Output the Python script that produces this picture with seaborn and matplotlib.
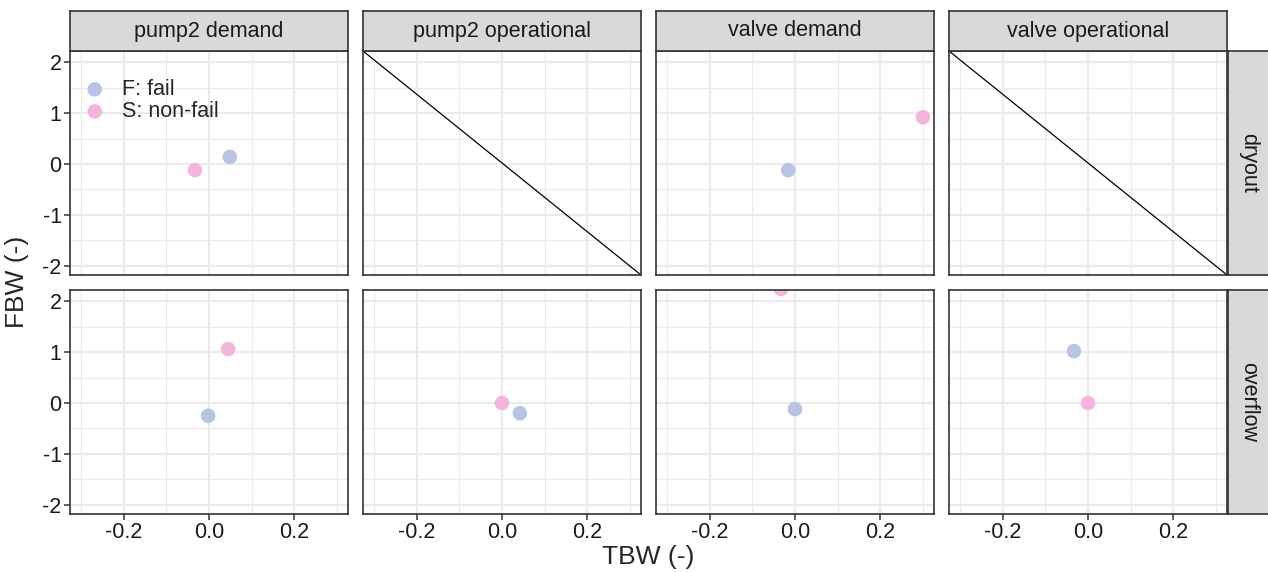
import numpy as np
import pandas as pd
import matplotlib
matplotlib.use("Agg")
import matplotlib.pyplot as plt
import seaborn as sns

# facets
col_names = ["pump2 demand", "pump2 operational", "valve demand", "valve operational"]
row_names = ["dryout", "overflow"]

# points
pt_row = ["dryout", "dryout", "dryout", "dryout",
          "overflow", "overflow", "overflow", "overflow",
          "overflow", "overflow", "overflow", "overflow"]
pt_col = ["pump2 demand", "pump2 demand", "valve demand", "valve demand",
          "pump2 demand", "pump2 demand", "pump2 operational", "pump2 operational",
          "valve demand", "valve demand", "valve operational", "valve operational"]
pt_group = ["F: fail", "S: non-fail", "F: fail", "S: non-fail",
            "F: fail", "S: non-fail", "F: fail", "S: non-fail",
            "F: fail", "S: non-fail", "F: fail", "S: non-fail"]
tbw = [0.049, -0.033, -0.016, 0.301,
       -0.002, 0.045, 0.042, 0.0,
       0.0, -0.033, -0.033, 0.0]
fbw = [0.14, -0.12, -0.12, 0.92,
       -0.25, 1.06, -0.20, 0.0,
       -0.12, 2.24, 1.02, 0.0]

# facets with no data get a diagonal
empty_panels = [("dryout", "pump2 operational"), ("dryout", "valve operational")]
xlim = (-0.327, 0.327)
ylim = (-2.18, 2.22)
diag_x = [-0.327, 0.327]
diag_y = [2.22, -2.18]

palette = {"F: fail": "#b9c3e3", "S: non-fail": "#f2b5dc"}

df = pd.DataFrame({"row": pt_row, "col": pt_col, "group": pt_group,
                   "TBW": tbw, "FBW": fbw})

sns.set_theme(style="white")
plt.rcParams["font.family"] = ["Liberation Sans", "DejaVu Sans"]

W, H = 1268, 572
fig = plt.figure(figsize=(W / 100, H / 100), dpi=100)

def fx(px):
    return px / W

def fy(py):
    return 1 - py / H

col_left = [70, 363, 656, 949]
pw = 278
row_top = [51, 290]
ph = 224
border = "#333333"
txt_size = 15.5

for r, rname in enumerate(row_names):
    for c, cname in enumerate(col_names):
        ax = fig.add_axes([fx(col_left[c]), fy(row_top[r] + ph), fx(pw), ph / H])
        ax.set_xlim(*xlim)
        ax.set_ylim(*ylim)
        ax.set_xticks([-0.2, 0.0, 0.2])
        ax.set_xticks([-0.3, -0.1, 0.1, 0.3], minor=True)
        ax.set_yticks([-2, -1, 0, 1, 2])
        ax.set_yticks([-1.5, -0.5, 0.5, 1.5], minor=True)
        ax.grid(which="major", color="#ebebeb", linewidth=1.6)
        ax.grid(which="minor", color="#ebebeb", linewidth=0.8)
        ax.set_axisbelow(True)
        for s in ax.spines.values():
            s.set_color(border)
            s.set_linewidth(1.2)
        ax.tick_params(which="major", length=4, width=1.1, color=border,
                       labelsize=txt_size, labelcolor="#1a1a1a",
                       bottom=(r == 1), left=(c == 0), pad=2)
        ax.tick_params(which="minor", length=0)
        if r == 0:
            ax.set_xticklabels([])
        else:
            ax.set_xticklabels(["-0.2", "0.0", "0.2"])
        if c > 0:
            ax.set_yticklabels([])
        else:
            ax.set_yticklabels(["-2", "-1", "0", "1", "2"])

        sub = df[(df["row"] == rname) & (df["col"] == cname)]
        if len(sub):
            sns.scatterplot(data=sub, x="TBW", y="FBW", hue="group",
                            hue_order=["F: fail", "S: non-fail"], palette=palette,
                            s=110, edgecolor="none", ax=ax, legend=False)
        if (rname, cname) in empty_panels:
            ax.plot(diag_x, diag_y, color="black", linewidth=0.9)
        ax.set_xlabel("")
        ax.set_ylabel("")

        if r == 0 and c == 0:
            for g in ["F: fail", "S: non-fail"]:
                ax.scatter([], [], color=palette[g], s=110, edgecolor="none", label=g)
            ax.legend(loc="upper left", bbox_to_anchor=(14 / pw, 0.875), frameon=False,
                      fontsize=txt_size, handlelength=1.0, handletextpad=0.75,
                      labelspacing=0.05, borderpad=0, borderaxespad=0)

        # top strip
        if r == 0:
            sax = fig.add_axes([fx(col_left[c]), fy(51), fx(pw), 40 / H])
            sax.set_facecolor("#d9d9d9")
            sax.set_xticks([])
            sax.set_yticks([])
            for s in sax.spines.values():
                s.set_color(border)
                s.set_linewidth(1.2)
            sax.text(0.5, 0.5, cname, ha="center", va="center", fontsize=txt_size,
                     color="#1a1a1a", transform=sax.transAxes)
    # right strip
    rax = fig.add_axes([fx(1228), fy(row_top[r] + ph), fx(41), ph / H])
    rax.set_facecolor("#d9d9d9")
    rax.set_xticks([])
    rax.set_yticks([])
    for s in rax.spines.values():
        s.set_color(border)
        s.set_linewidth(1.2)
    rax.text(0.5, 0.5, rname, ha="center", va="center", fontsize=txt_size, rotation=-90,
             color="#1a1a1a", transform=rax.transAxes)

fig.text(fx(648), fy(557), "TBW (-)", ha="center", va="center", fontsize=19)
fig.text(fx(17), fy(282), "FBW (-)", ha="center", va="center", fontsize=19, rotation=90)

fig.savefig("out.png", dpi=100, facecolor="white")
